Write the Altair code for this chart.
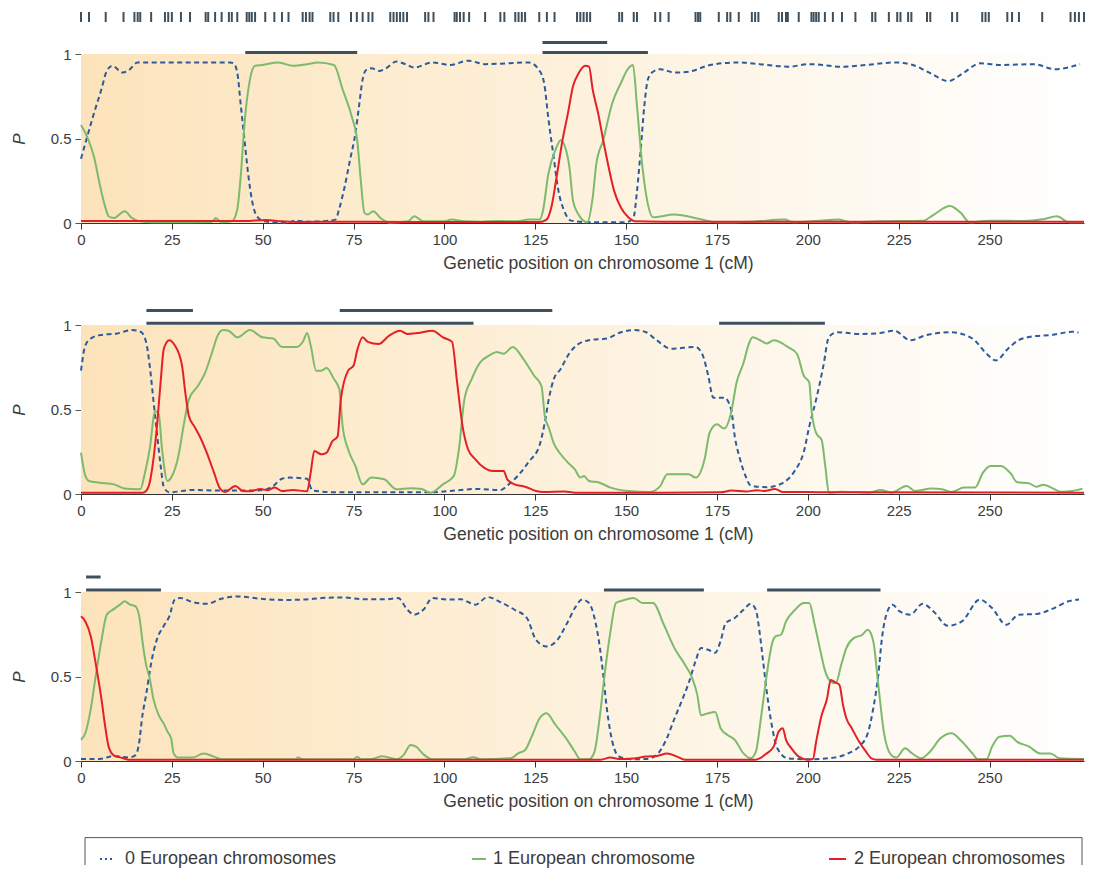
import altair as alt
import pandas as pd

# ---------------- data ----------------
XMAX = 276

MARKER_CM = [0.0, 2.2, 6.8, 11.7, 14.7, 15.6, 16.3, 19.3, 23.1, 24.0, 25.0, 27.5, 30.0, 34.3, 35.0,
             36.9, 38.7, 40.7, 41.5, 43.0, 45.6, 46.3, 47.0, 47.9, 50.7, 53.2, 55.3, 57.1, 61.0, 61.9,
             62.9, 63.7, 68.6, 69.5, 70.8, 74.3, 75.9, 77.5, 79.1, 80.2, 85.1, 86.0, 86.9, 87.8, 88.7,
             89.7, 94.7, 95.6, 97.0, 102.8, 103.4, 104.3, 105.3, 106.8, 111.2, 115.4, 116.5, 119.5,
             120.4, 121.3, 122.2, 126.1, 128.2, 130.3, 136.5, 137.4, 138.3, 139.2, 140.1, 148.1, 148.9,
             152.1, 153.0, 158.0, 159.4, 161.7, 169.1, 169.8, 170.4, 175.5, 177.8, 178.7, 181.0, 184.6,
             185.5, 186.4, 192.0, 192.9, 194.0, 194.5, 197.5, 201.0, 201.6, 202.3, 203.0, 204.7, 206.9,
             209.4, 213.1, 217.7, 218.6, 222.3, 224.6, 225.5, 227.6, 228.5, 232.8, 233.7, 239.7, 241.1,
             248.0, 248.9, 249.8, 254.9, 256.2, 258.1, 264.5, 272.3, 273.5, 274.6, 276.0]

# panel 1
P1_ZERO = [(0, 0.38), (1.7, 0.51), (3.3, 0.63), (5.6, 0.79), (7.1, 0.90), (8.6, 0.93), (11.5, 0.89),
           (13.5, 0.91), (15.5, 0.95), (18.9, 0.95), (25, 0.95), (30, 0.95), (35, 0.95), (41, 0.95),
           (42, 0.945), (43, 0.89), (44, 0.69), (45, 0.49), (46, 0.29), (47, 0.14), (48.4, 0.04),
           (50.4, 0.01), (56.3, 0.0), (59, 0.014), (63, 0.008), (66, 0.01), (70, 0.02), (71, 0.08),
           (72.5, 0.21), (74, 0.37), (75.5, 0.53), (76.5, 0.69), (77.5, 0.85), (78.4, 0.905), (80, 0.915),
           (82, 0.90), (83.9, 0.915), (86.8, 0.955), (89.8, 0.935), (91.7, 0.92), (96.7, 0.95),
           (101.6, 0.935), (106.5, 0.96), (111.4, 0.94), (117.3, 0.945), (123.2, 0.95), (126.2, 0.9),
           (127.5, 0.82), (128.6, 0.62), (130, 0.4), (131.3, 0.2), (133, 0.07), (134.9, 0.014),
           (140, 0.004), (145, 0.004), (150, 0.005), (152, 0.03), (153, 0.19), (154, 0.43), (155, 0.69),
           (156, 0.85), (157.4, 0.895), (159.4, 0.91), (163.3, 0.89), (167.2, 0.895), (173.1, 0.935),
           (180.9, 0.95), (186.8, 0.94), (194.6, 0.925), (200.5, 0.94), (209.3, 0.925), (216.1, 0.935),
           (224, 0.95), (228.9, 0.935), (233.8, 0.885), (238.7, 0.84), (242.6, 0.885), (247.5, 0.945),
           (253.3, 0.935), (262.1, 0.94), (268, 0.91), (274.9, 0.94)]
P1_ONE = [(0, 0.58), (1.7, 0.51), (3.6, 0.39), (5.1, 0.235), (6.6, 0.10), (7.6, 0.04), (9.1, 0.03),
          (12, 0.07), (14, 0.03), (16, 0.01), (20, 0.005), (30, 0.005), (36, 0.006), (37.1, 0.03),
          (38.6, 0.004), (41.5, 0.01), (43, 0.08), (44, 0.29), (45, 0.59), (46.5, 0.85), (47.9, 0.93),
          (49.9, 0.935), (54.3, 0.95), (58.3, 0.93), (62.2, 0.94), (65.2, 0.95), (69.6, 0.935),
          (72, 0.79), (74.5, 0.63), (76, 0.49), (77, 0.25), (78, 0.06), (78.9, 0.05), (80.4, 0.07),
          (82.4, 0.03), (84.8, 0.003), (90, 0.01), (91.7, 0.04), (94.2, 0.01), (100, 0.01), (102, 0.02),
          (105.5, 0.01), (110, 0.008), (115, 0.012), (120, 0.01), (123.2, 0.02), (126.2, 0.02),
          (127.1, 0.07), (128.6, 0.29), (130.5, 0.43), (132, 0.49), (133.5, 0.43), (134.4, 0.33),
          (135.4, 0.13), (136.9, 0.05), (139.3, 0.004), (140.8, 0.15), (141.8, 0.35), (143.7, 0.49),
          (146.2, 0.71), (148.6, 0.83), (150.6, 0.915), (151.9, 0.935), (153, 0.69), (154.5, 0.33),
          (156, 0.11), (157.4, 0.034), (163.3, 0.05), (170.2, 0.024), (175, 0.004), (184.8, 0.008),
          (193.6, 0.02), (196, 0.005), (203.4, 0.014), (208.3, 0.02), (212, 0.004), (220, 0.01),
          (231.8, 0.014), (234.7, 0.05), (239.1, 0.10), (242.1, 0.06), (244.5, 0.004), (249.9, 0.014),
          (259.2, 0.012), (265.1, 0.024), (268.5, 0.04), (271.9, 0.004), (276, 0.004)]
P1_TWO = [(0, 0.012), (30, 0.012), (45, 0.012), (51, 0.018), (55, 0.01), (60, 0.006), (70, 0.008),
          (90, 0.006), (110, 0.006), (126.1, 0.006), (128.1, 0.02), (129.6, 0.11), (131, 0.29),
          (132.5, 0.49), (134, 0.65), (135.4, 0.81), (136.9, 0.885), (138.8, 0.93), (139.8, 0.925),
          (140.8, 0.79), (142.3, 0.65), (143.7, 0.49), (145.2, 0.33), (146.7, 0.19), (148.6, 0.09),
          (150.6, 0.034), (152.5, 0.01), (160, 0.008), (200, 0.008), (276, 0.008)]

# panel 2
P2_ZERO = [(0, 0.73), (1.2, 0.88), (2.7, 0.92), (5.1, 0.94), (10, 0.95), (14, 0.97), (16.4, 0.96),
           (17.9, 0.90), (18.9, 0.76), (19.9, 0.56), (20.9, 0.36), (21.9, 0.17), (22.8, 0.04),
           (24.3, 0.01), (30.7, 0.024), (38.6, 0.02), (48.4, 0.02), (52.4, 0.04), (55.3, 0.09),
           (57.3, 0.097), (62.2, 0.09), (63.7, 0.02), (71.1, 0.01), (85.8, 0.01), (95.7, 0.01),
           (104.5, 0.024), (108.5, 0.03), (115.4, 0.024), (117.3, 0.05), (120.3, 0.11), (123.2, 0.19),
           (126.2, 0.29), (127.6, 0.42), (128.8, 0.57), (130.1, 0.68), (132, 0.74), (134, 0.82),
           (136.4, 0.88), (139.8, 0.91), (144.7, 0.92), (148.6, 0.957), (152.5, 0.97), (155.5, 0.957),
           (158.4, 0.91), (162.3, 0.86), (169.1, 0.87), (171.1, 0.82), (172.6, 0.70), (174, 0.57),
           (177, 0.57), (178.9, 0.50), (179.9, 0.34), (181.3, 0.21), (182.8, 0.11), (184.3, 0.05),
           (188.7, 0.04), (192.6, 0.06), (196.5, 0.14), (198.9, 0.25), (200.4, 0.40), (202.3, 0.56),
           (204.3, 0.76), (205.8, 0.93), (208.2, 0.957), (214.1, 0.947), (218.9, 0.95), (223.8, 0.966),
           (228.2, 0.91), (232.6, 0.94), (239.5, 0.957), (245.3, 0.92), (249.2, 0.83), (251.7, 0.79),
           (255.1, 0.86), (258, 0.91), (262.9, 0.935), (266.8, 0.94), (272.7, 0.96), (274.5, 0.955)]
P2_ONE = [(0, 0.245), (1.2, 0.107), (2.2, 0.077), (5.1, 0.067), (9.1, 0.057), (12, 0.032), (15.5, 0.028),
          (16.4, 0.03), (17.4, 0.107), (18.9, 0.265), (20.4, 0.49), (21.4, 0.47), (22.3, 0.265),
          (23.8, 0.077), (24.8, 0.097), (26.8, 0.225), (28.2, 0.40), (29.7, 0.56), (32.2, 0.64),
          (34.2, 0.72), (36.1, 0.84), (37.6, 0.937), (39.1, 0.97), (40.6, 0.966), (43, 0.927),
          (46.5, 0.97), (49.9, 0.927), (52.9, 0.92), (55.3, 0.87), (59.3, 0.87), (61.2, 0.907),
          (62.2, 0.953), (63.2, 0.88), (64.7, 0.73), (66.1, 0.73), (67.6, 0.745), (69.6, 0.68),
          (71.1, 0.62), (72, 0.40), (73.5, 0.265), (75.5, 0.166), (77.5, 0.057), (79.9, 0.097),
          (83.4, 0.087), (86.8, 0.028), (90.7, 0.034), (93.7, 0.03), (96.2, 0.008), (99.6, 0.057),
          (102.6, 0.107), (104, 0.265), (105.5, 0.56), (107.5, 0.68), (109.9, 0.78), (112.4, 0.82),
          (114.4, 0.84), (116.3, 0.83), (118.8, 0.87), (121.7, 0.80), (124.7, 0.70), (126.7, 0.64),
          (127.7, 0.45), (128.6, 0.40), (130.1, 0.30), (132, 0.235), (134, 0.186), (135.9, 0.146),
          (137.4, 0.097), (138.4, 0.107), (139.8, 0.077), (142.7, 0.067), (145.7, 0.038), (150.6, 0.018),
          (156.4, 0.012), (159.4, 0.047), (161.3, 0.117), (167.2, 0.117), (169.1, 0.097), (171.6, 0.206),
          (173, 0.364), (175, 0.413), (177, 0.387), (178.9, 0.482), (180.4, 0.66), (182.3, 0.775),
          (183.8, 0.89), (184.8, 0.927), (187.7, 0.90), (188.7, 0.89), (190.6, 0.91), (194.5, 0.87),
          (197, 0.83), (198.9, 0.70), (200.4, 0.66), (201, 0.50), (202.3, 0.36), (203.8, 0.32),
          (204.8, 0.166), (205.8, 0.008), (209, 0.014), (213, 0.012), (217, 0.008), (220, 0.024),
          (223, 0.008), (227.2, 0.047), (229.5, 0.018), (234, 0.032), (237, 0.028), (239.5, 0.012),
          (243, 0.038), (246, 0.038), (248.2, 0.126), (250.2, 0.166), (253.1, 0.166), (256, 0.117),
          (257.5, 0.071), (260.9, 0.063), (262.9, 0.043), (264.8, 0.055), (267, 0.038), (269.7, 0.014),
          (272.7, 0.018), (275.6, 0.032)]
P2_TWO = [(0, 0.008), (17, 0.008), (17.9, 0.018), (18.9, 0.067), (19.9, 0.2), (20.9, 0.40), (21.9, 0.66),
          (22.8, 0.86), (24.3, 0.91), (25.8, 0.88), (27.8, 0.76), (28.7, 0.60), (29.7, 0.46), (31.2, 0.40),
          (32.7, 0.34), (34.6, 0.245), (36.6, 0.126), (38.1, 0.038), (39.6, 0.012), (42.5, 0.047),
          (44.5, 0.018), (46.5, 0.016), (49.4, 0.03), (51.4, 0.022), (53.3, 0.038), (55.3, 0.018),
          (58.3, 0.024), (62.2, 0.016), (63.2, 0.126), (64.2, 0.255), (66.1, 0.235), (67.6, 0.245),
          (69.1, 0.31), (70.6, 0.34), (71.5, 0.56), (73.5, 0.73), (75, 0.76), (76, 0.85), (77.5, 0.927),
          (78.9, 0.90), (81.9, 0.887), (84.8, 0.937), (87.8, 0.966), (89.8, 0.947), (92.7, 0.953),
          (96.7, 0.966), (99.6, 0.927), (102.1, 0.90), (103.5, 0.66), (105, 0.40), (106.5, 0.265),
          (108.5, 0.205), (110.9, 0.156), (113.4, 0.136), (116.3, 0.136), (117.3, 0.087), (119.3, 0.057),
          (122.2, 0.043), (125.2, 0.018), (127.2, 0.012), (133, 0.015), (136, 0.008), (160, 0.008),
          (176, 0.01), (179, 0.02), (183, 0.015), (186, 0.022), (188, 0.018), (191, 0.03), (193, 0.012),
          (200, 0.012), (205, 0.01), (276, 0.008)]

# panel 3
P3_ZERO = [(0, 0.012), (5.1, 0.012), (9.1, 0.03), (13, 0.02), (15, 0.035), (15.9, 0.095), (16.9, 0.27),
           (17.9, 0.39), (19.4, 0.59), (20.9, 0.72), (22.8, 0.80), (24.3, 0.856), (25.8, 0.955),
           (27.3, 0.965), (30.7, 0.94), (34.6, 0.93), (38.6, 0.96), (43, 0.974), (49.4, 0.96),
           (56.3, 0.953), (61.2, 0.955), (66.1, 0.964), (72, 0.968), (78, 0.957), (83.9, 0.957),
           (87.3, 0.964), (89.8, 0.895), (91.7, 0.866), (94.2, 0.895), (96.7, 0.964), (100.6, 0.955),
           (104.5, 0.957), (108.5, 0.925), (111.9, 0.97), (115.4, 0.94), (119.3, 0.895), (122.7, 0.846),
           (125.2, 0.717), (128.1, 0.678), (131.1, 0.717), (134, 0.826), (135.9, 0.905), (137.9, 0.955),
           (139.8, 0.935), (141.3, 0.846), (142.8, 0.668), (143.7, 0.51), (144.7, 0.31), (146.2, 0.115),
           (148.1, 0.026), (151.6, 0.01), (155.5, 0.012), (158.4, 0.036), (160.8, 0.115), (163.3, 0.25),
           (165.2, 0.35), (167.2, 0.46), (169.1, 0.59), (170.6, 0.668), (172.6, 0.658), (174.5, 0.64),
           (176, 0.71), (177.4, 0.816), (179.9, 0.846), (182.3, 0.895), (184.3, 0.93), (185.7, 0.895),
           (186.7, 0.767), (187.7, 0.59), (188.7, 0.41), (190.1, 0.21), (191.6, 0.075), (194.5, 0.016),
           (200.4, 0.01), (207.2, 0.02), (211.1, 0.045), (214.1, 0.085), (216.5, 0.164), (218, 0.31),
           (219.4, 0.51), (220.4, 0.727), (221.9, 0.885), (223.3, 0.925), (225.3, 0.885), (228.2, 0.866),
           (231.6, 0.93), (234.6, 0.885), (238.5, 0.80), (242.4, 0.826), (247.3, 0.955), (250.7, 0.905),
           (254.6, 0.806), (258, 0.866), (262.9, 0.87), (267.8, 0.905), (271.7, 0.945), (274.6, 0.955)]
P3_ONE = [(0, 0.125), (1.2, 0.164), (2.7, 0.31), (4.1, 0.51), (5.6, 0.71), (7.1, 0.866), (9.1, 0.90),
          (11, 0.93), (12, 0.945), (13.5, 0.925), (15, 0.915), (16.1, 0.846), (16.9, 0.71), (17.9, 0.57),
          (18.9, 0.49), (19.9, 0.37), (21.4, 0.27), (22.8, 0.22), (23.8, 0.174), (24.8, 0.134),
          (25.5, 0.045), (26.8, 0.02), (30.7, 0.02), (33.7, 0.045), (36.6, 0.026), (38.6, 0.01),
          (59, 0.01), (59.7, 0.02), (61, 0.01), (75, 0.01), (76, 0.025), (77, 0.01), (80, 0.012),
          (82.9, 0.028), (86.8, 0.01), (88.8, 0.036), (90.7, 0.095), (92.2, 0.085), (94.2, 0.04),
          (96.7, 0.01), (105.5, 0.01), (108, 0.022), (110, 0.01), (118.3, 0.016), (120.3, 0.045),
          (122.2, 0.065), (124.2, 0.154), (126.2, 0.253), (128.1, 0.283), (130.6, 0.213), (133.5, 0.134),
          (135.9, 0.055), (137.4, 0.01), (139.8, 0.01), (141.3, 0.055), (142.8, 0.27), (144.2, 0.53),
          (145.7, 0.767), (147.2, 0.935), (149.1, 0.95), (152.1, 0.964), (154.5, 0.935), (157.4, 0.935),
          (160.4, 0.806), (163.3, 0.668), (166.2, 0.57), (168.2, 0.49), (169.6, 0.39), (170.6, 0.27),
          (172.6, 0.283), (174.5, 0.29), (176, 0.194), (177.9, 0.154), (179.9, 0.125), (182.3, 0.045),
          (184.3, 0.016), (185.7, 0.055), (187.2, 0.27), (188.7, 0.51), (190.1, 0.69), (191.1, 0.737),
          (192.6, 0.747), (194, 0.826), (196.5, 0.895), (198.9, 0.935), (200.4, 0.935), (201.9, 0.806),
          (203.3, 0.668), (204.8, 0.53), (206.3, 0.47), (207.7, 0.46), (209.2, 0.57), (210.6, 0.668),
          (212.6, 0.727), (215, 0.747), (216.5, 0.777), (218, 0.71), (219.4, 0.45), (220.9, 0.174),
          (222.9, 0.036), (224.3, 0.02), (226.8, 0.075), (228.7, 0.045), (231.2, 0.016), (233.6, 0.055),
          (236.5, 0.134), (239.5, 0.164), (242.4, 0.115), (245.3, 0.045), (246.8, 0.01), (249.2, 0.01),
          (250.7, 0.085), (252.7, 0.144), (255.6, 0.15), (257.5, 0.115), (260.9, 0.085), (263.9, 0.045),
          (266.8, 0.045), (269.2, 0.016), (276, 0.012)]
P3_TWO = [(0, 0.856), (1.2, 0.826), (2.7, 0.737), (4.1, 0.57), (5.6, 0.37), (6.6, 0.213), (7.6, 0.085),
          (9.1, 0.032), (11, 0.02), (13, 0.008), (40, 0.008), (143, 0.008), (145.7, 0.02), (148, 0.012),
          (152, 0.015), (155.5, 0.026), (158.5, 0.03), (161.3, 0.045), (164, 0.026), (166.2, 0.008),
          (185.7, 0.008), (188.7, 0.045), (190.6, 0.085), (192, 0.174), (193.1, 0.194), (194, 0.125),
          (195.5, 0.075), (197.5, 0.026), (199.9, 0.008), (201.4, 0.012), (202.3, 0.115), (203.8, 0.27),
          (205.3, 0.37), (206.3, 0.48), (207.2, 0.47), (208.7, 0.45), (209.7, 0.33), (210.6, 0.253),
          (212.1, 0.194), (214.1, 0.115), (216, 0.055), (217.5, 0.016), (219, 0.008), (276, 0.008)]

# segments above each panel (start cM, end cM): lower row / upper row
P1_BARS_LOW = [(45.2, 76.0), (127.0, 156.0)]
P1_BARS_HIGH = [(127.0, 144.8)]
P2_BARS_LOW = [(18.0, 108.0), (175.6, 204.7)]
P2_BARS_HIGH = [(18.0, 30.8), (71.2, 129.7)]
P3_BARS_LOW = [(1.4, 22.0), (143.9, 171.4), (188.8, 220.0)]
P3_BARS_HIGH = [(1.4, 5.4)]

LEGEND_LABELS = ["0 European chromosomes", "1 European chromosome", "2 European chromosomes"]
X_TICKS = [0, 25, 50, 75, 100, 125, 150, 175, 200, 225, 250]
Y_TICKS = [0, 0.5, 1]
X_TITLE = "Genetic position on chromosome 1 (cM)"

# ---------------- styles ----------------
W, H = 1003, 169
BLUE = "#2b5b9c"
GREEN = "#7cba6c"
RED = "#e41f26"
BAR = "#3f505c"
FONT = "Liberation Sans"
TXT = "#3c3c3c"

xscale = alt.Scale(domain=[0, XMAX], nice=False, zero=False)
yscale = alt.Scale(domain=[0, 1], nice=False, zero=False)

xaxis = alt.Axis(values=X_TICKS, format="d", title=X_TITLE, grid=False, tickSize=6,
                 labelPadding=3, labelFontSize=15, titleFontSize=17.5, titlePadding=7,
                 titleX=517, domainColor="#333", tickColor="#333", labelColor=TXT,
                 titleColor=TXT, titleFontWeight="normal", labelFont=FONT, titleFont=FONT,
                 domainWidth=1.2, labelFlush=False)
yaxis = alt.Axis(values=Y_TICKS, format="~g", title="P", grid=False, tickSize=6, labelPadding=4,
                 labelFontSize=15, titleFontSize=17, titleFontStyle="italic", titlePadding=22,
                 domainColor="#555", tickColor="#555", labelColor=TXT, titleColor=TXT,
                 titleFontWeight="normal", labelFont=FONT, titleFont=FONT, labelFlush=False)

gradient = alt.Gradient(
    gradient="linear",
    stops=[alt.GradientStop(color="#fce3bb", offset=0),
           alt.GradientStop(color="#fdeccf", offset=0.3),
           alt.GradientStop(color="#fdf4e4", offset=0.6),
           alt.GradientStop(color="#ffffff", offset=1)],
    x1=0, x2=1, y1=0, y2=0)


def to_df(pairs):
    return pd.DataFrame({"pos": [p[0] for p in pairs], "p": [p[1] for p in pairs]})


def seg_df(segs):
    return pd.DataFrame({"a": [s[0] for s in segs], "b": [s[1] for s in segs]})


def X(field):
    return alt.X(field, type="quantitative", scale=xscale, axis=xaxis)


def Y(field):
    return alt.Y(field, type="quantitative", scale=yscale, axis=yaxis)


def panel(zero, one, two, low, high, off_low, off_high, top_extent):
    bg = alt.Chart(pd.DataFrame({"x0": [0], "x1": [XMAX], "y0": [0], "y1": [1]})).mark_rect(
        color=gradient).encode(x=X("x0"), x2="x1", y=Y("y0"), y2="y1")
    spacer = alt.Chart(pd.DataFrame({"k": [0]})).mark_rule(opacity=0, color="white").encode(
        x=alt.value(10), x2=alt.value(20), y=alt.value(-top_extent), y2=alt.value(-top_extent + 1))
    l0 = alt.Chart(to_df(zero)).mark_line(color=BLUE, strokeWidth=2, strokeDash=[5, 3.5],
                                          interpolate="monotone").encode(x=X("pos"), y=Y("p"))
    l1 = alt.Chart(to_df(one)).mark_line(color=GREEN, strokeWidth=2,
                                         interpolate="monotone").encode(x=X("pos"), y=Y("p"))
    l2 = alt.Chart(to_df(two)).mark_line(color=RED, strokeWidth=2,
                                         interpolate="monotone").encode(x=X("pos"), y=Y("p"))
    b_low = alt.Chart(seg_df(low)).mark_rule(color=BAR, strokeWidth=3).encode(
        x=X("a"), x2="b", y=alt.value(-off_low))
    layers = [bg, spacer, l0, l1, l2, b_low]
    if high:
        b_high = alt.Chart(seg_df(high)).mark_rule(color=BAR, strokeWidth=3).encode(
            x=X("a"), x2="b", y=alt.value(-off_high))
        layers.append(b_high)
    return alt.layer(*layers).properties(width=W, height=H)


strip = alt.Chart(pd.DataFrame({"pos": MARKER_CM})).mark_rule(color=BAR, strokeWidth=2).encode(
    x=alt.X("pos:Q", scale=xscale, axis=None), y=alt.value(0), y2=alt.value(10)
).properties(width=W, height=10)

p1 = panel(P1_ZERO, P1_ONE, P1_TWO, P1_BARS_LOW, P1_BARS_HIGH, 1.5, 11.5, 30.5)
p2 = panel(P2_ZERO, P2_ONE, P2_TWO, P2_BARS_LOW, P2_BARS_HIGH, 1.8, 14.5, 52.3)
p3 = panel(P3_ZERO, P3_ONE, P3_TWO, P3_BARS_LOW, P3_BARS_HIGH, 2.0, 15.0, 48.3)

# legend (drawn as a boxed key)
BOX_TOP = 27.6
LEG_H = 55
box = [
    alt.Chart(pd.DataFrame({"k": [0]})).mark_rule(color="#555", strokeWidth=1).encode(
        x=alt.value(4), x2=alt.value(1001), y=alt.value(BOX_TOP)),
    alt.Chart(pd.DataFrame({"k": [0]})).mark_rule(color="#555", strokeWidth=1).encode(
        x=alt.value(4), y=alt.value(BOX_TOP), y2=alt.value(LEG_H)),
    alt.Chart(pd.DataFrame({"k": [0]})).mark_rule(color="#555", strokeWidth=1).encode(
        x=alt.value(1001), y=alt.value(BOX_TOP), y2=alt.value(LEG_H)),
]
KEY_Y = 49
sym_x = [19, 391, 748]
sym_len = [15, 14, 17]
sym_col = [BLUE, GREEN, RED]
sym_dash = [[2, 3], [1, 0], [1, 0]]
syms = []
for sx, sl, sc, sd in zip(sym_x, sym_len, sym_col, sym_dash):
    syms.append(alt.Chart(pd.DataFrame({"k": [0]})).mark_rule(color=sc, strokeWidth=2, strokeDash=sd).encode(
        x=alt.value(sx), x2=alt.value(sx + sl), y=alt.value(KEY_Y)))
texts = alt.Chart(pd.DataFrame({"label": LEGEND_LABELS, "px": [44, 412, 773]})).mark_text(
    align="left", baseline="middle", fontSize=18, font=FONT, color=TXT).encode(
    x=alt.X("px:Q", scale=None, axis=None), y=alt.value(KEY_Y), text="label:N")
legend = alt.layer(*box, *syms, texts).properties(width=W, height=LEG_H)

chart = alt.vconcat(strip, p1, p2, p3, legend, spacing=0).properties(
    padding={"left": 2, "top": 3, "right": 0, "bottom": 0}
).configure_view(strokeWidth=0)

chart.save("out.html", embed_options={"renderer": "svg", "actions": False})
